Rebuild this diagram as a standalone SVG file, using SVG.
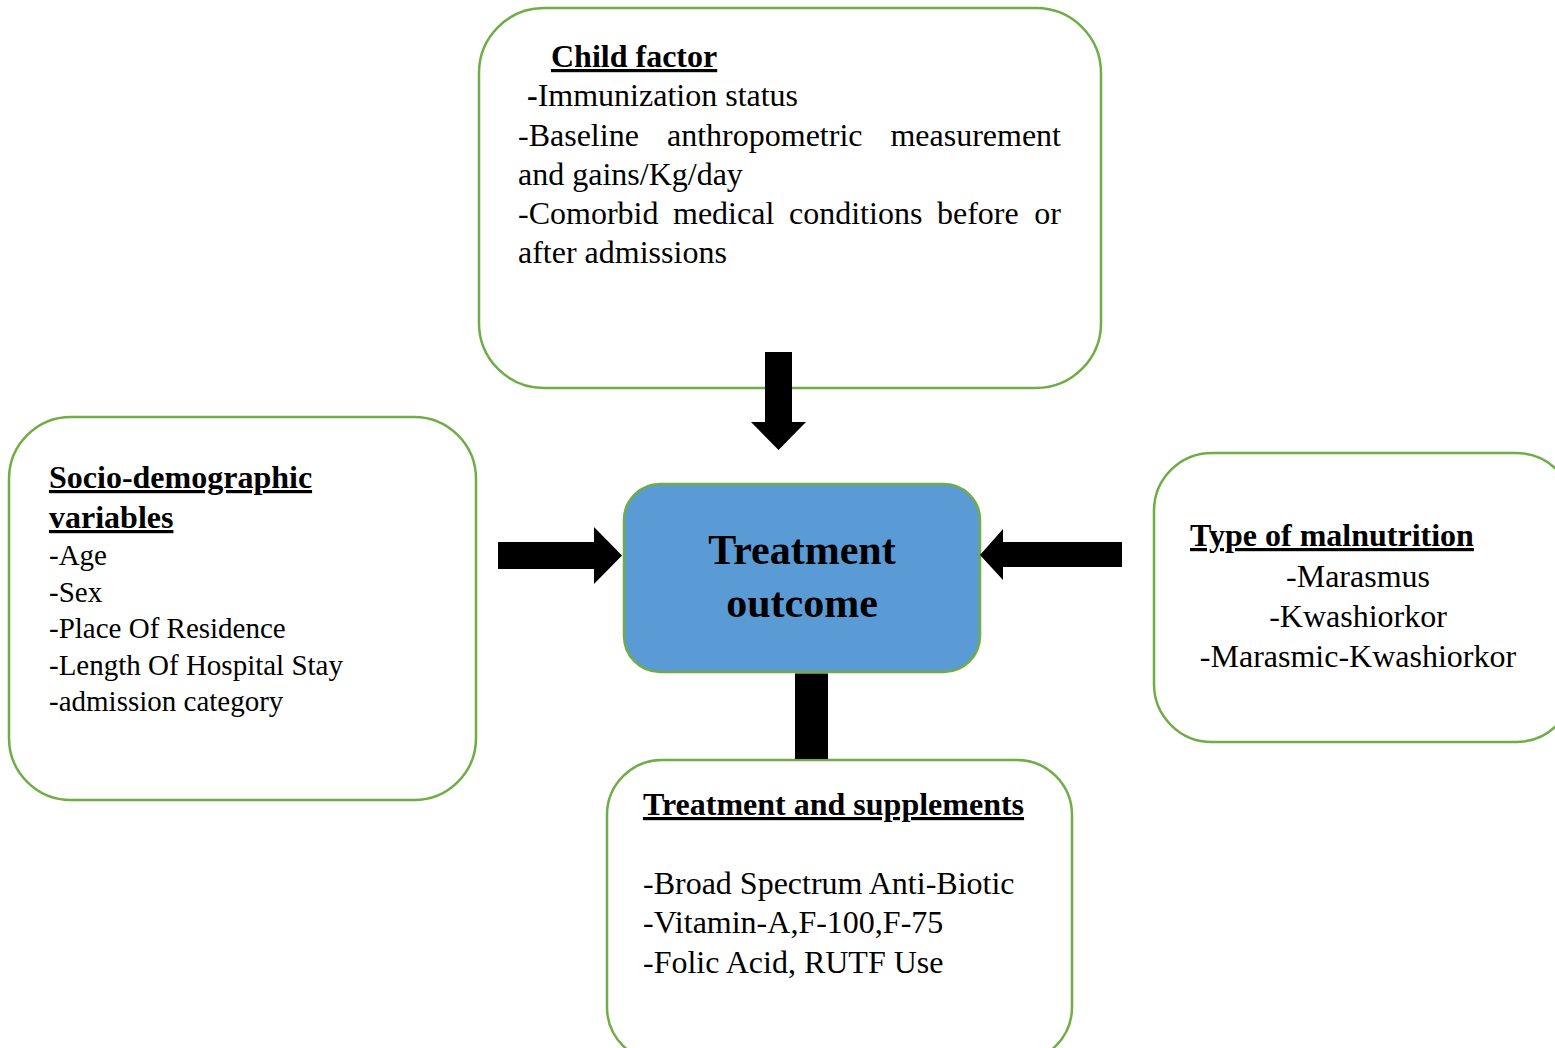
<svg xmlns="http://www.w3.org/2000/svg" width="1555" height="1048" viewBox="0 0 1555 1048">
<style>
.box{fill:#ffffff;stroke:#70AD47;stroke-width:2.5}
.center{fill:#5B9BD5;stroke:#70AD47;stroke-width:2.5}
.t{font-family:"Liberation Serif","Times New Roman",serif;fill:#000}
.b32{font-size:32px}
.b29{font-size:29px}
.h{font-weight:bold;font-size:32px;text-decoration:underline}
.big{font-weight:bold;font-size:42px}
.arrow{fill:#000}
</style>
<rect width="1555" height="1048" fill="#ffffff"/>
<g id="child-factor">
<rect class="box" x="479" y="8" width="622" height="380" rx="65" ry="65"/>
<text class="t h" x="551" y="67">Child factor</text>
<text class="t b32" x="527" y="106"><tspan font-weight="bold">-</tspan>Immunization status</text>
<text class="t b32" x="518" y="146">-Baseline</text>
<text class="t b32" x="667" y="146">anthropometric</text>
<text class="t b32" x="1061" y="146" text-anchor="end">measurement</text>
<text class="t b32" x="518" y="185">and gains/Kg/day</text>
<text class="t b32" x="518" y="224">-Comorbid</text>
<text class="t b32" x="673" y="224">medical</text>
<text class="t b32" x="789" y="224">conditions</text>
<text class="t b32" x="937" y="224">before</text>
<text class="t b32" x="1061" y="224" text-anchor="end">or</text>
<text class="t b32" x="518" y="263">after admissions</text>
</g>
<g id="socio-demographic">
<rect class="box" x="9" y="417" width="467" height="383" rx="62" ry="62"/>
<text class="t h" x="49" y="488">Socio-demographic</text>
<text class="t h" x="49" y="528">variables</text>
<text class="t b29" x="49" y="565">-Age</text>
<text class="t b29" x="49" y="602">-Sex</text>
<text class="t b29" x="49" y="638">-Place Of Residence</text>
<text class="t b29" x="49" y="675">-Length Of Hospital Stay</text>
<text class="t b29" x="49" y="711">-admission category</text>
</g>
<g id="type-of-malnutrition">
<rect class="box" x="1154" y="453" width="420" height="289" rx="58" ry="58"/>
<text class="t h" x="1190" y="546">Type of malnutrition</text>
<text class="t b32" x="1358" y="587" text-anchor="middle">-Marasmus</text>
<text class="t b32" x="1358" y="627" text-anchor="middle">-Kwashiorkor</text>
<text class="t b32" x="1358" y="667" text-anchor="middle">-Marasmic-Kwashiorkor</text>
</g>
<g id="treatment-supplements">
<rect class="box" x="607" y="760" width="465" height="302" rx="55" ry="55"/>
<text class="t h" x="643" y="815">Treatment and supplements</text>
<text class="t b32" x="643" y="894">-Broad Spectrum Anti-Biotic</text>
<text class="t b32" x="643" y="933">-Vitamin-A,F-100,F-75</text>
<text class="t b32" x="643" y="973">-Folic Acid, RUTF Use</text>
</g>
<g id="treatment-outcome">
<rect class="center" x="624" y="484" width="356" height="188" rx="36" ry="36"/>
<text class="t big" x="802" y="564" text-anchor="middle">Treatment</text>
<text class="t big" x="802" y="617" text-anchor="middle">outcome</text>
</g>
<g id="connectors">
<polygon class="arrow" points="765,352 792,352 792,422 806,422 778.5,450 751,422 765,422"/>
<polygon class="arrow" points="498,542 594,542 594,527 622,555.5 594,584 594,569 498,569"/>
<polygon class="arrow" points="1122,542 1003,542 1003,529 980,555 1003,580 1003,567 1122,567"/>
<rect class="arrow" x="795" y="673.5" width="33" height="85.5"/>
</g>
</svg>
